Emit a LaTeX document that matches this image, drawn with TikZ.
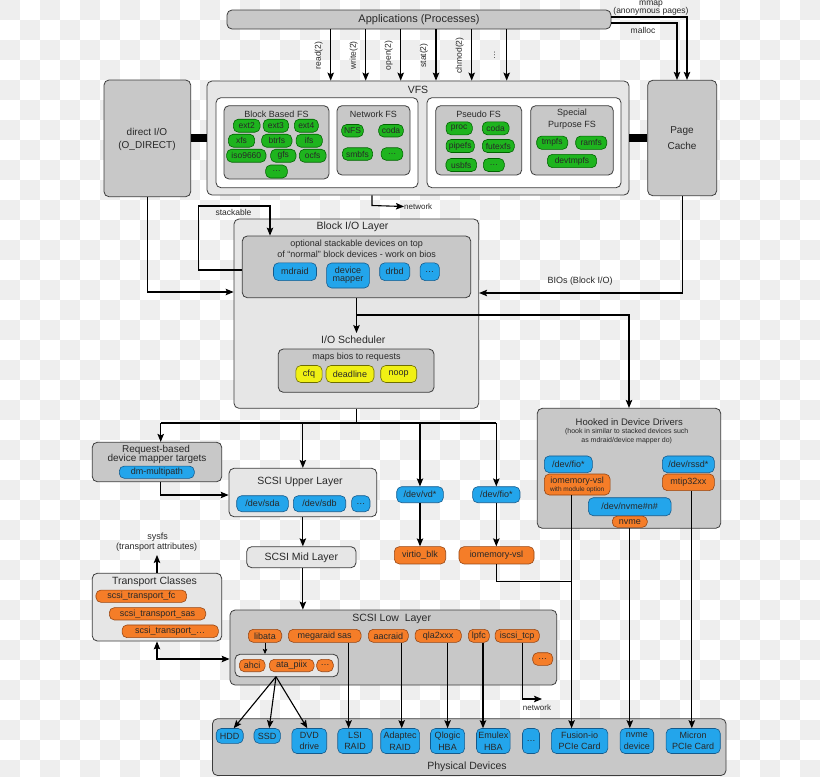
\documentclass[tikz,border=0pt]{standalone}
\usepackage{fontspec}
\setmainfont{Liberation Sans}
\usetikzlibrary{arrows.meta,fit,calc}
\definecolor{txt}{RGB}{40,40,40}
\definecolor{bgsq}{RGB}{238,238,238}
\definecolor{gdark}{RGB}{200,200,200}
\definecolor{glight}{RGB}{230,230,230}
\definecolor{pblue}{RGB}{35,165,235}
\definecolor{pblueb}{RGB}{20,90,140}
\definecolor{pgreen}{RGB}{30,180,30}
\definecolor{pgreenb}{RGB}{0,100,0}
\definecolor{porange}{RGB}{245,125,40}
\definecolor{porangeb}{RGB}{150,70,20}
\definecolor{pyellow}{RGB}{240,240,20}
\definecolor{pyellowb}{RGB}{110,110,0}
\definecolor{edge}{RGB}{60,60,60}
\tikzset{
 box/.style={draw=edge, line width=0.8pt, rounded corners=5pt, inner sep=0pt},
 dbox/.style={box, fill=gdark},
 lbox/.style={box, fill=glight},
 wbox/.style={box, fill=white},
 sz/.style 2 args={minimum width=#1pt, minimum height=#2pt},
 pill/.style={draw, line width=0.6pt, rounded corners=5pt, inner sep=0pt, text=txt, font=\fontsize{9}{10}\selectfont, align=center},
 bp/.style={pill, fill=pblue, draw=pblueb},
 gp/.style={pill, fill=pgreen, draw=pgreenb, font=\fontsize{8.5}{9}\selectfont},
 op/.style={pill, fill=porange, draw=porangeb},
 yp/.style={pill, fill=pyellow, draw=pyellowb},
 ttl/.style={text=txt, inner sep=0pt, font=\fontsize{10.5}{12}\selectfont},
 lbl/.style={text=txt, inner sep=0pt, font=\fontsize{9}{10}\selectfont},
 sml/.style={text=txt, inner sep=0pt, font=\fontsize{7}{8}\selectfont},
 conn/.style={draw=black, line width=1.1pt},
 arr/.style={conn, -{Stealth[length=8pt,width=6.5pt,inset=1.5pt]}},
 sarr/.style={draw=black, line width=0.8pt, -{Stealth[length=5pt,width=4.5pt,inset=1pt]}},
 darr/.style={conn, {Stealth[length=8pt,width=6.5pt,inset=1.5pt]}-{Stealth[length=8pt,width=6.5pt,inset=1.5pt]}},
 thickbar/.style={draw=black, line width=8pt},
}
\begin{document}
\begin{tikzpicture}[x=1pt,y=-1pt]
\useasboundingbox (0,0) rectangle (820,777);
\begin{scope}
\clip (0,0) rectangle (820,777);
\fill[white] (0,0) rectangle (820,777);
\foreach \i in {0,2,...,40} \foreach \j in {0,2,...,38} \fill[bgsq] (\i*20,\j*20) rectangle ++(20,20);
\foreach \i in {1,3,...,39} \foreach \j in {1,3,...,37} \fill[bgsq] (\i*20,\j*20) rectangle ++(20,20);
\end{scope}

% ---------- Applications
\node[dbox, fit={(227,10) (611,29)}] (app) {};
\node[ttl, font=\fontsize{11}{12}\selectfont] (appt) at (419,19.5) {Applications (Processes)};
\node[lbl, font=\fontsize{8.5}{9}\selectfont] (mmapt) at (651,3.8) {mmap};
\node[lbl, font=\fontsize{8.5}{9}\selectfont] (anont) at (651,11.5) {(anonymous pages)};
\node[lbl, font=\fontsize{8.5}{9}\selectfont] (malloct) at (643,30.5) {malloc};

% ---------- VFS
\node[lbox, fit={(207,81) (629,195)}] (vfs) {};
\node[ttl] (vfst) at (418,90) {VFS};
\node[wbox, fit={(216,97.7) (418,187.7)}] (vfsl) {};
\node[wbox, fit={(427,97.7) (621,187.7)}] (vfsr) {};

\node[dbox, fit={(224,105.7) (329,179)}] (bbfs) {};
\node[lbl] (bbfst) at (276.5,114.5) {Block Based FS};
\node[gp, sz={26.7}{13}] (ext2) at (246.7,125.7) {ext2};
\node[gp, sz={25.3}{13}] (ext3) at (275.9,125.7) {ext3};
\node[gp, sz={24}{13}] (ext4) at (306.3,125.7) {ext4};
\node[gp, sz={26.3}{13}] (xfs) at (241.5,140.7) {xfs};
\node[gp, sz={30.3}{13}] (btrfs) at (276.8,140.7) {btrfs};
\node[gp, sz={26.3}{13}] (ifs) at (309.2,140.7) {ifs};
\node[gp, sz={39.3}{13}] (iso) at (246.3,155.7) {iso9660};
\node[gp, sz={25.3}{13}] (gfs) at (283.3,155.7) {gfs};
\node[gp, sz={26.7}{13}] (ocfs) at (312.7,155.7) {ocfs};
\node[gp, sz={21.7}{13}] (bbdots) at (276.5,171.5) {\ldots};

\node[dbox, fit={(337,105.7) (410,175)}] (netfs) {};
\node[lbl] (netfst) at (373.5,114.5) {Network FS};
\node[gp, sz={21.7}{12.5}] (nfs) at (352.5,130.7) {NFS};
\node[gp, sz={24.7}{12.5}] (coda1) at (391,130.7) {coda};
\node[gp, sz={30.3}{12.5}] (smbfs) at (357.5,154) {smbfs};
\node[gp, sz={21.7}{12.5}] (nfdots) at (392,154) {\ldots};

\node[dbox, fit={(435.7,105.7) (521.7,175)}] (psfs) {};
\node[lbl] (psfst) at (478.7,114.5) {Pseudo FS};
\node[gp, sz={26.3}{13}] (proc) at (459.2,128.3) {proc};
\node[gp, sz={26.7}{13}] (coda2) at (495.7,128.3) {coda};
\node[gp, sz={28.3}{13}] (pipefs) at (460.2,146) {pipefs};
\node[gp, sz={32}{13}] (futexfs) at (498.3,146) {futexfs};
\node[gp, sz={30.7}{13}] (usbfs) at (461.3,165) {usbfs};
\node[gp, sz={21}{13}] (psdots) at (493.8,165) {\ldots};

\node[dbox, fit={(530.7,105.7) (613.3,175)}] (spfs) {};
\node[lbl] (spfst1) at (572,113.5) {Special};
\node[lbl] (spfst2) at (572,125) {Purpose FS};
\node[gp, sz={31}{13.3}] (tmpfs) at (552.2,142.7) {tmpfs};
\node[gp, sz={31}{13.3}] (ramfs) at (591.2,142.7) {ramfs};
\node[gp, sz={49.3}{13.3}] (devtmpfs) at (572,161) {devtmpfs};

% ---------- direct I/O and Page Cache
\node[dbox, fit={(104,80) (190.7,196.7)}] (dio) {};
\node[lbl, font=\fontsize{10}{11}\selectfont] (diot1) at (147,131.5) {direct I/O};
\node[lbl, font=\fontsize{10}{11}\selectfont] (diot2) at (147,146) {(O\_DIRECT)};
\node[dbox, fit={(647.7,80.3) (716.7,195.7)}] (pc) {};
\node[lbl, font=\fontsize{10}{11}\selectfont] (pct1) at (682,131.5) {Page};
\node[lbl, font=\fontsize{10}{11}\selectfont] (pct2) at (682,145.5) {Cache};
\draw[thickbar] (dio.east) -- (dio.east -| vfs.west);
\draw[thickbar] (vfs.east) -- (vfs.east -| pc.west);

% syscalls
\foreach \x/\t [count=\k] in {330.7/read(2),365.7/write(2),400.7/open(2),436/stat(2),471.7/chmod(2)} {
  \coordinate (sc\k) at (\x,0);
  \draw[arr] (sc\k |- app.south) -- (sc\k |- vfs.north);
  \node[lbl, rotate=90, font=\fontsize{8.5}{9}\selectfont] (sct\k) at (\x-12,55.5) {\t};
}
\coordinate (sc6) at (506.7,0);
\draw[arr] (sc6 |- app.south) -- (sc6 |- vfs.north);
\node[lbl, rotate=90, font=\fontsize{8.5}{9}\selectfont] (sct6) at (494.7,55.5) {\ldots};
% mmap / malloc
\coordinate (mm) at (687,17);
\coordinate (ml) at (677,23);
\draw[arr] (app.east |- mm) -- (mm) -- (mm |- pc.north);
\draw[arr] (app.east |- ml) -- (ml) -- (ml |- pc.north);

% VFS -> network
\coordinate (vn) at (372,205.5);
\node[lbl, anchor=west, font=\fontsize{8}{9}\selectfont] (net1) at (404,206.5) {network};
\draw[arr] (vn |- vfs.south) -- (vn) -- (net1.west);

% ---------- Block I/O layer
\node[lbox, fit={(234,219) (478.7,408.3)}] (blk) {};
\node[ttl] (blkt) at (352.5,227) {Block I/O Layer};
\node[dbox, fit={(242.3,236) (470.7,297.7)}] (blkin) {};
\node[lbl] (blkin1) at (356.7,243.7) {optional stackable devices on top};
\node[lbl] (blkin2) at (356.7,254.5) {of “normal” block devices - work on bios};
\node[bp, sz={43}{17.7}] (mdraid) at (295,271.7) {mdraid};
\node[bp, sz={42.7}{25}, font=\fontsize{9}{8}\selectfont] (dm) at (348,275.5) {device\\mapper};
\node[bp, sz={30}{17.7}] (drbd) at (394.7,271.7) {drbd};
\node[bp, sz={19.3}{17.7}] (bdots) at (429.7,271.7) {\ldots};

\coordinate (stkA) at (198.3,206);
\coordinate (stkB) at (270,206);
\draw[arr] (blkin.west |- 0,270) -- (stkA |- 0,270) -- (stkA) -- (stkB) -- (stkB |- blkin.north);
\node[lbl, font=\fontsize{8.5}{9}\selectfont] (stkt) at (233.5,212.5) {stackable};

\draw[arr] (dio.south) -- (dio.south |- 0,292) -- (blk.west |- 0,292);
\draw[arr] (pc.south) -- (pc.south |- 0,293) -- (blk.east |- 0,293);
\node[lbl] (bios) at (580,281.5) {BIOs (Block I/O)};

\node[ttl] (iosch) at (353.3,339.5) {I/O Scheduler};
\draw[arr] (blkin.south) -- (blkin.south |- 0,333);
\node[dbox, fit={(278.3,349) (434,392.3)}] (maps) {};
\node[lbl] (mapst) at (356.5,357.5) {maps bios to requests};
\node[yp, sz={26.3}{17}] (cfq) at (309,374) {cfq};
\node[yp, sz={48}{17}] (deadline) at (350,374) {deadline};
\node[yp, sz={36}{17}] (noop) at (398.7,374) {noop};

% ---------- Hooked in device drivers
\node[dbox, fit={(537.3,408.3) (720.7,528.3)}] (hook) {};
\node[lbl, font=\fontsize{9.5}{10}\selectfont] (hookt) at (629.3,422) {Hooked in Device Drivers};
\node[sml] (hookt2) at (626.7,431.7) {(hook in similar to stacked devices such};
\node[sml] (hookt3) at (626.7,440.3) {as mdraid/device mapper do)};
\node[bp, sz={48}{16.7}] (fio1) at (568.3,464.3) {/dev/fio*};
\node[op, sz={65.7}{21}, font=\fontsize{9}{8}\selectfont] (iom1) at (577.2,484.5) {iomemory-vsl\\{\fontsize{6.5}{7}\selectfont with module option}};
\node[bp, sz={52}{16.7}] (rssd) at (688.3,464.3) {/dev/rssd*};
\node[op, sz={52}{16.7}] (mtip) at (688.3,482.3) {mtip32xx};
\node[bp, sz={82.7}{18}] (nvmen) at (629.7,506.7) {/dev/nvme\#n\#};
\node[op, sz={35}{11.3}] (nvme) at (629.8,521.7) {nvme};

\coordinate (br) at (629,315);
\draw[arr] (blkin.south |- br) -- (br) -- (hook.north);

% ---------- Request-based
\node[dbox, fit={(92.3,442.3) (221.7,481.7)}] (reqb) {};
\node[lbl, font=\fontsize{10}{11}\selectfont] (reqt1) at (156,449.5) {Request-based};
\node[lbl, font=\fontsize{10}{11}\selectfont] (reqt2) at (157,459.3) {device mapper targets};
\node[bp, sz={75}{12.3}] (dmmp) at (156.8,472.2) {dm-multipath};

% ---------- SCSI upper / mid
\node[lbox, fit={(229,468.3) (376.7,516.7)}] (up) {};
\node[ttl] (upt) at (300,482) {SCSI Upper Layer};
\node[bp, sz={51.6}{16}] (sda) at (262.5,503.7) {/dev/sda};
\node[bp, sz={52.4}{16}] (sdb) at (319.5,503.7) {/dev/sdb};
\node[bp, sz={18.3}{16}] (sddots) at (360.8,503.7) {\ldots};
\node[lbox, fit={(246.7,546.7) (356,567.7)}] (mid) {};
\node[ttl] (midt) at (301.3,557.3) {SCSI Mid Layer};

% vd / fio
\node[bp, sz={46.6}{16}] (vd) at (420,494.7) {/dev/vd*};
\node[op, sz={51.4}{17.3}] (virtio) at (420,555.3) {virtio\_blk};
\node[bp, sz={47.3}{16}] (fio2) at (496.3,494.7) {/dev/fio*};
\node[op, sz={75}{17.3}] (iom2) at (496.5,555.3) {iomemory-vsl};

% distribution
\coordinate (dL) at (160.7,423);
\coordinate (dR) at (496.3,423);
\draw[conn] (blk.south) -- (blk.south |- dL);
\draw[conn] (dL) -- (dR);
\draw[arr] (dL) -- (dL |- reqb.north);
\draw[arr] (up.north |- dL) -- (up.north);
\draw[arr] (vd.north |- dL) -- (vd.north);
\draw[arr] (dR) -- (dR |- fio2.north);
\draw[arr] (vd.south) -- (virtio.north);
\draw[arr] (fio2.south) -- (fio2.south |- iom2.north);
\draw[arr] (dL |- reqb.south) -- (dL |- 0,495) -- (up.west |- 0,495);
\draw[arr] (up.south) -- (up.south |- mid.north);

% ---------- Transport classes
\node[lbl] (sysfs) at (157.7,537) {sysfs};
\node[lbl] (sysfs2) at (156.7,547.5) {(transport attributes)};
\node[lbox, fit={(92.3,573.3) (221.7,641)}] (tc) {};
\node[ttl] (tct) at (154.5,581.3) {Transport Classes};
\node[op, sz={90.7}{12.3}] (tfc) at (141.3,596.2) {scsi\_transport\_fc};
\node[op, sz={96.4}{12.3}] (tsas) at (157.5,613.8) {scsi\_transport\_sas};
\node[op, sz={96.3}{12.7}] (tdots) at (170.2,631.3) {scsi\_transport\_\ldots};
\draw[arr] (tc.north) -- (tc.north |- 0,555);

% ---------- SCSI low
\node[dbox, fit={(230,610) (556.7,685)}] (low) {};
\node[ttl] (lowt) at (391.7,618.5) {SCSI Low\ \ Layer};
\node[op, sz={33.4}{13}] (libata) at (265,635.8) {libata};
\node[op, sz={72.7}{13}] (mega) at (324.7,635.8) {megaraid sas};
\node[op, sz={40}{13}] (aac) at (388.3,635.8) {aacraid};
\node[op, sz={46.3}{13}] (qla) at (438.2,635.8) {qla2xxx};
\node[op, sz={21}{13}] (lpfc) at (478.8,635.8) {lpfc};
\node[op, sz={44.3}{13}] (iscsi) at (517.2,635.8) {iscsi\_tcp};
\node[op, sz={20}{12.6}] (lowdots) at (542.7,659) {\ldots};
\node[lbox, fit={(235,654.3) (338.3,676.7)}] (lowin) {};
\node[op, sz={25.7}{12.4}] (ahci) at (252.2,665.5) {ahci};
\node[op, sz={44.7}{12.4}] (ata) at (291.7,665.5) {ata\_piix};
\node[op, sz={16.6}{12.4}] (atadots) at (325,665.5) {\ldots};
\draw[sarr] (libata.south) -- (libata.south |- lowin.north);
\draw[arr] (up.south |- mid.south) -- (up.south |- low.north);
\draw[darr] (tc.south) -- (tc.south |- 0,659) -- (low.west |- 0,659);

% ---------- Physical devices
\node[dbox, fit={(212.5,718.7) (726,775.5)}] (phys) {};
\node[ttl] (physt) at (467,766.5) {Physical Devices};
\tikzset{pp/.style={bp, font=\fontsize{9}{11.5}\selectfont}}
\node[pp, sz={27}{14.8}, anchor=north] (hdd) at (229.7,728.2) {HDD};
\node[pp, sz={26.4}{14.8}, anchor=north] (ssd) at (267.2,728.2) {SSD};
\node[pp, sz={34.8}{25}, anchor=north] (dvd) at (309.3,728.2) {DVD\\drive};
\node[pp, sz={34.5}{25}, anchor=north] (lsi) at (355,728.2) {LSI\\RAID};
\node[pp, sz={38.9}{25}, anchor=north] (adaptec) at (400.2,728.2) {Adaptec\\RAID};
\node[pp, sz={34.1}{25}, anchor=north] (qlogic) at (447.5,728.2) {Qlogic\\HBA};
\node[pp, sz={33.7}{25}, anchor=north] (emulex) at (493.3,728.2) {Emulex\\HBA};
\node[pp, sz={17}{25}, anchor=north] (pdots) at (531,728.2) {\ldots};
\node[pp, sz={56.4}{25}, anchor=north] (fusion) at (579.6,728.2) {Fusion-io\\PCIe Card};
\node[pp, sz={33.7}{25}, anchor=north] (nvmed) at (636.9,728.2) {nvme\\device};
\node[pp, sz={54.1}{25}, anchor=north] (micron) at (693.2,728.2) {Micron\\PCIe Card};

\coordinate (fan) at (276,676.7);
\draw[arr] (fan) -- ($(hdd.north)+(4,0)$);
\draw[arr] (fan) -- ($(ssd.north)+(2,0)$);
\draw[arr] (fan) -- ($(dvd.north)+(-2,0)$);
\coordinate (xm) at (348.6,0);
\coordinate (xa) at (401.7,0);
\coordinate (xq) at (447.6,0);
\coordinate (xe) at (483,0);
\coordinate (xi) at (522.7,0);
\coordinate (xf) at (571.6,0);
\coordinate (xmi) at (691.8,0);
\draw[arr] (xm |- mega.south) -- (xm |- lsi.north);
\draw[arr] (xa |- aac.south) -- (xa |- adaptec.north);
\draw[arr] (xq |- qla.south) -- (xq |- qlogic.north);
\draw[arr] (xe |- lpfc.south) -- (xe |- emulex.north);
\coordinate (netB) at (542,699);
\node[lbl, font=\fontsize{8}{9}\selectfont] (net2) at (537,707.5) {network};
\draw[arr] (xi |- iscsi.south) -- (xi |- netB) -- (netB);
\draw[arr] (xf |- iom1.south) -- (xf |- fusion.north);
\draw[draw=black, line width=0.9pt] (iom2.south) -- (iom2.south |- 0,581) -- (xf |- 0,581);
\draw[arr] (nvme.south) -- (nvme.south |- nvmed.north);
\draw[arr] (xmi |- mtip.south) -- (xmi |- micron.north);
\end{tikzpicture}
\end{document}
